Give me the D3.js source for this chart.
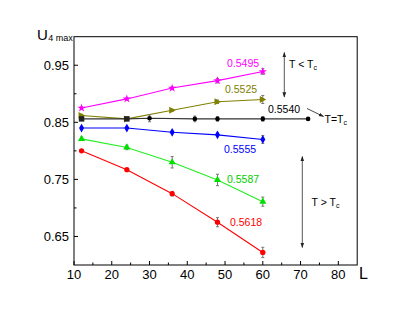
<!DOCTYPE html>
<html><head><meta charset="utf-8">
<script src="https://cdn.jsdelivr.net/npm/d3@7"></script>
<style>body{margin:0;background:#fff}svg{display:block;font-family:"Liberation Sans",Arial,sans-serif}</style>
</head><body><svg id="c" width="415" height="318"></svg>
<script>
const xTicks = [10,20,30,40,50,60,70,80];
const yTicks = [0.65,0.75,0.85,0.95];
const Lmain = [12,24,36,48,60];
const Lblack = [12,24,30,42,48,60,72];
const magenta = [0.875,0.891,0.910,0.923,0.939];
const magentaErr = [0.002,0.002,0.002,0.004,0.005];
const olive = [0.862,0.856,0.871,0.886,0.890];
const oliveErr = [0.002,0.002,0.002,0.003,0.007];
const black = [0.856,0.856,0.857,0.856,0.856,0.856,0.856];
const blackErr = [0.002,0.002,0.006,0.005,0.004,0.004,0.002];
const blue = [0.840,0.840,0.8325,0.828,0.820];
const blueErr = [0.001,0.001,0.002,0.003,0.007];
const green = [0.821,0.806,0.780,0.749,0.711];
const greenErr = [0.003,0.004,0.010,0.010,0.008];
const red = [0.800,0.767,0.725,0.675,0.622];
const redErr = [0.002,0.002,0.004,0.008,0.009];
const seriesLabels = ["0.5495","0.5525","0.5540","0.5555","0.5587","0.5618"];

const svg = d3.select("#c");
const L=74, R=357.2, T=36.7, B=265;
const x = d3.scaleLinear().domain([10,85]).range([L,R]);
const y = d3.scaleLinear().domain([0.60,1.00]).range([B,T]);

const series = [
  {xs:Lmain, v:magenta, e:magentaErr, c:"#ff00ff", sym:d3.symbolStar, size:22, label:seriesLabels[0], lx:227, ly:66.5},
  {xs:Lmain, v:olive, e:oliveErr, c:"#808000", sym:"tri-right", size:30, label:seriesLabels[1], lx:225, ly:92.5},
  {xs:Lblack, v:black, e:blackErr, c:"#222", sym:d3.symbolSquare, size:22, label:seriesLabels[2], lx:268, ly:113, lc:"#000", lineC:"#333"},
  {xs:Lmain, v:blue, e:blueErr, c:"#0000ff", sym:d3.symbolDiamond, size:22, label:seriesLabels[3], lx:224, ly:152.5},
  {xs:Lmain, v:green, e:greenErr, c:"#00e000", sym:d3.symbolTriangle, size:22, label:seriesLabels[4], lx:227, ly:182.5, lc:"#00cc00", lineC:"#22ee22"},
  {xs:Lmain, v:red, e:redErr, c:"#ff0000", sym:d3.symbolCircle, size:22, label:seriesLabels[5], lx:230, ly:226}
];

// frame
svg.append("rect").attr("x",L).attr("y",T).attr("width",R-L).attr("height",B-T)
  .attr("fill","none").attr("stroke","#000").attr("stroke-width",1);

// axes ticks (inward)
const xMinor = d3.range(15,85,10);
const yMinor = [0.70,0.80,0.90];
const g = svg.append("g").attr("stroke","#000").attr("stroke-width",1);
xTicks.forEach(t=>g.append("line").attr("x1",x(t)).attr("x2",x(t)).attr("y1",B).attr("y2",B-4));
xMinor.forEach(t=>g.append("line").attr("x1",x(t)).attr("x2",x(t)).attr("y1",B).attr("y2",B-2.5));
yTicks.forEach(t=>g.append("line").attr("x1",L).attr("x2",L+4).attr("y1",y(t)).attr("y2",y(t)));
yMinor.forEach(t=>g.append("line").attr("x1",L).attr("x2",L+2.5).attr("y1",y(t)).attr("y2",y(t)));

svg.selectAll(".xl").data(xTicks).enter().append("text")
  .attr("x",d=>x(d)).attr("y",279).attr("text-anchor","middle").attr("font-size",13).text(d=>d);
svg.selectAll(".yl").data(yTicks).enter().append("text")
  .attr("x",L-5).attr("y",d=>y(d)+4.6).attr("text-anchor","end").attr("font-size",13).text(d=>d3.format(".2f")(d));

// axis titles
svg.append("text").attr("x",359).attr("y",279).attr("font-size",16).text("L");
const yt = svg.append("text").attr("x",37).attr("y",39.5).attr("font-size",15);
yt.append("tspan").text("U");
yt.append("tspan").attr("font-size",9).attr("dy",1.5).attr("dx",0.5).text("4 max");

// series
series.forEach(s=>{
  const pts = s.xs.map((l,i)=>({l, v:s.v[i], e:s.e[i]}));
  svg.append("path").datum(pts)
    .attr("d", d3.line().x(d=>x(d.l)).y(d=>y(d.v)))
    .attr("fill","none").attr("stroke",s.lineC||s.c).attr("stroke-width",1.1);
  const eb = svg.append("g").attr("stroke","#777").attr("stroke-width",1);
  pts.forEach(p=>{
    eb.append("line").attr("x1",x(p.l)).attr("x2",x(p.l)).attr("y1",y(p.v-p.e)).attr("y2",y(p.v+p.e));
    eb.append("line").attr("x1",x(p.l)-1.5).attr("x2",x(p.l)+1.5).attr("y1",y(p.v-p.e)).attr("y2",y(p.v-p.e));
    eb.append("line").attr("x1",x(p.l)-1.5).attr("x2",x(p.l)+1.5).attr("y1",y(p.v+p.e)).attr("y2",y(p.v+p.e));
  });
  pts.forEach((p,i)=>{
    let sz = s.size;
    if (s.sym===d3.symbolSquare && p.l>24) { 
      svg.append("circle").attr("cx",x(p.l)).attr("cy",y(p.v)).attr("r",2.3).attr("fill","#000");
      return;
    }
    if (s.sym==="tri-right") {
      const cx=x(p.l), cy=y(p.v);
      svg.append("path").attr("d",`M${cx+3.5},${cy}L${cx-3},${cy-3.5}L${cx-3},${cy+3.5}Z`).attr("fill",s.c);
    } else {
      svg.append("path").attr("transform",`translate(${x(p.l)},${y(p.v)})`)
        .attr("d", d3.symbol().type(s.sym).size(s.sym===d3.symbolSquare?30:sz)()).attr("fill",s.c);
    }
  });
  svg.append("text").attr("x",s.lx).attr("y",s.ly).attr("font-size",10.5).attr("fill",s.lc||s.c).text(s.label);
});

// annotations
const defs = svg.append("defs");
defs.append("marker").attr("id","ah").attr("viewBox","0 0 10 10").attr("refX",9).attr("refY",5)
  .attr("markerWidth",6).attr("markerHeight",6).attr("orient","auto-start-reverse")
  .append("path").attr("d","M0,1.5L10,5L0,8.5Z").attr("fill","#222");
function dbl(xx,y1,y2){
  svg.append("line").attr("x1",xx).attr("x2",xx).attr("y1",y1).attr("y2",y2)
   .attr("stroke","#444").attr("stroke-width",0.9)
   .attr("marker-start","url(#ah)").attr("marker-end","url(#ah)");
}
dbl(284.3,52.5,97);
dbl(302.3,156.5,247.5);
function tlabel(xx,yy,op){
  const t = svg.append("text").attr("x",xx).attr("y",yy).attr("font-size",10.5).attr("fill","#000");
  t.append("tspan").text("T "+op+" T");
  t.append("tspan").attr("font-size",7).attr("dy",2).text("c");
}
tlabel(289,68,"<");
tlabel(311.5,206,">");
svg.append("line").attr("x1",307).attr("y1",108.5).attr("x2",323.5).attr("y2",116.5)
  .attr("stroke","#333").attr("stroke-width",0.9).attr("marker-end","url(#ah)");
const te = svg.append("text").attr("x",324.5).attr("y",122.5).attr("font-size",10.5);
te.append("tspan").text("T=T");
te.append("tspan").attr("font-size",7).attr("dy",2).text("c");
</script></body></html>
